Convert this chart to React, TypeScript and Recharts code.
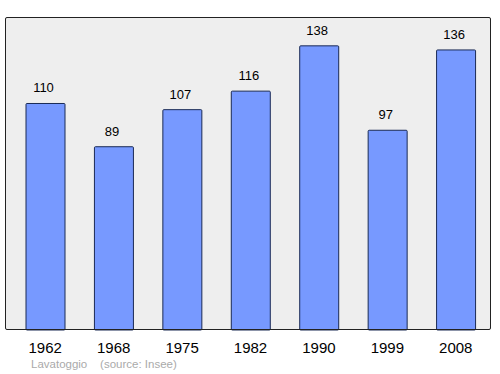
import { BarChart, Bar, XAxis, YAxis, CartesianGrid, LabelList } from 'recharts'

const years = ['1962', '1968', '1975', '1982', '1990', '1999', '2008']
const population = [110, 89, 107, 116, 138, 97, 136]

const data = years.map((year, i) => ({ year, pop: population[i] }))

const font = '"Liberation Sans", Arial, sans-serif'

export default function App() {
  return (
    <div style={{ position: 'absolute', left: 0, top: 0, width: 500, height: 374, background: '#fff', fontFamily: font }}>
      <BarChart
        width={500}
        height={374}
        data={data}
        margin={{ top: 17, right: 9, bottom: 0, left: 5 }}
        barSize={39}
      >
        <CartesianGrid fill="#eeeeee" stroke="none" horizontal={false} vertical={false} />
        <XAxis
          dataKey="year"
          axisLine={false}
          tickLine={false}
          height={44}
          padding={{ left: 6, right: 1 }}
          tick={{ fontSize: 15, fill: '#000', fontFamily: font }}
          tickMargin={6}
        />
        <YAxis hide domain={[0, 152]} />
        <Bar dataKey="pop" fill="#7799ff" stroke="#1a2a55" strokeWidth={1} radius={1} isAnimationActive={false}>
          <LabelList dataKey="pop" position="top" offset={11} dx={-2} style={{ fontSize: 13, fill: '#000', fontFamily: font }} />
        </Bar>
      </BarChart>
      <div
        style={{
          position: 'absolute',
          left: 5,
          top: 17,
          width: 486,
          height: 313,
          boxSizing: 'border-box',
          border: '1.5px solid #222',
          borderRadius: 2,
          pointerEvents: 'none',
        }}
      />
      <div style={{ position: 'absolute', left: 31, top: 358, fontSize: 11.5, color: '#aaaaaa', whiteSpace: 'pre' }}>
        {'Lavatoggio    (source: Insee)'}
      </div>
    </div>
  )
}
